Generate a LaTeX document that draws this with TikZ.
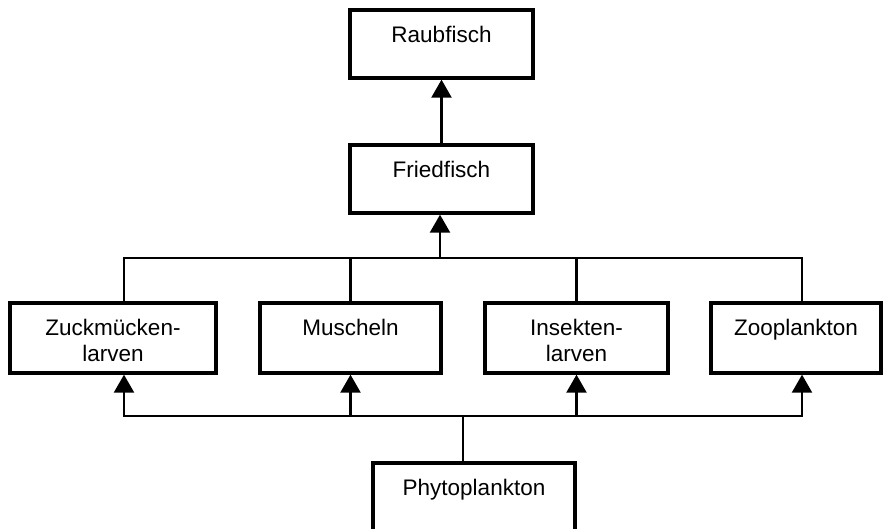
\documentclass[tikz,border=0pt]{standalone}
\usepackage{fontspec}
\setmainfont{Liberation Sans}
\usetikzlibrary{arrows.meta,positioning}

\begin{document}
\begin{tikzpicture}[
  x=1pt,y=-1pt,
  font=\fontsize{22.5}{25.5}\selectfont,
  box/.style={draw,line width=3.3pt,minimum height=68pt,inner sep=0pt},
  txt/.style={anchor=north,yshift=-18pt,inner sep=0pt,align=center},
  conn/.style={line width=2.2pt},
  arr/.style={-{Triangle[length=18pt,width=20pt]},line width=2.2pt}
]
\useasboundingbox (0,0) rectangle (883,528);
\clip (0,0) rectangle (883,528);
% food chain boxes
\node[box,minimum width=183pt,label={[txt]north:Raubfisch}] (raub) at (441.5,44) {};
\node[box,minimum width=183pt,label={[txt]north:Friedfisch}] (fried) at (441.5,179) {};
\node[box,minimum width=206pt,minimum height=70pt,label={[txt]north:Zuckmücken-\\larven}] (zuck) at (113,338) {};
\node[box,minimum width=181pt,minimum height=70pt,label={[txt]north:Muscheln}] (musch) at (350.5,338) {};
\node[box,minimum width=183pt,minimum height=70pt,label={[txt]north:Insekten-\\larven}] (insekt) at (576.5,338) {};
\node[box,minimum width=170pt,minimum height=70pt,label={[txt]north:Zooplankton}] (zoo) at (796,338) {};
\node[box,minimum width=202pt,label={[txt]north:Phytoplankton}] (phyto) at (474,497) {};
\coordinate (jtop) at (440,258);
\coordinate (jbot) at (463,416);
% upper bus
\draw[arr] (fried) -- (raub);
\draw[conn] ([xshift=11pt]zuck.north) |- (jtop) -| ([xshift=6pt]zoo.north);
\draw[conn] (musch.north) -- (musch.north |- jtop);
\draw[conn] (insekt.north) -- (insekt.north |- jtop);
\draw[arr] (jtop) -- (jtop |- fried.south);
% lower bus
\draw[conn] (phyto.north -| jbot) -- (jbot);
\draw[arr] (jbot) -| ([xshift=11pt]zuck.south);
\draw[arr] (jbot) -| (musch.south);
\draw[arr] (jbot) -| (insekt.south);
\draw[arr] (jbot) -| ([xshift=6pt]zoo.south);
\end{tikzpicture}
\end{document}
